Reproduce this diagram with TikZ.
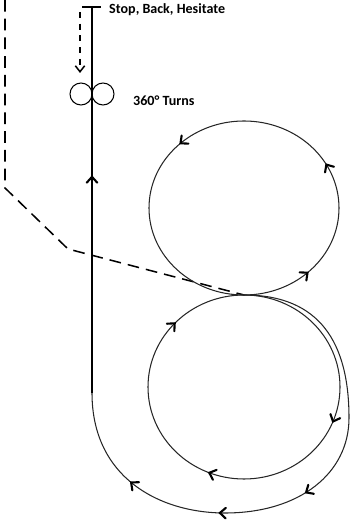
\documentclass[tikz,border=0pt]{standalone}
\usepackage{fontspec}
\setmainfont{Carlito}
\usetikzlibrary{arrows.meta,decorations.markings}

\begin{document}
\begin{tikzpicture}[x=0.3mm, y=0.3mm,
  loopline/.style={line width=0.9pt, black!85},
  spine/.style={line width=1.6pt},
  trail/.style={dash pattern=on 10pt off 6pt, line width=1.3pt},
  hint/.style={dash pattern=on 5pt off 5pt, line width=1.3pt,
               -{Straight Barb[length=1.8mm, width=2.8mm, line width=1.3pt]}},
  turn/.style={circle, draw, line width=0.9pt, minimum size=6.6mm, inner sep=0pt},
  lbl/.style={font=\bfseries\fontsize{12}{14}\selectfont, anchor=base west, inner sep=0pt},
  flow/.style={postaction={decorate, decoration={markings,
               mark=at position #1 with {\draw[black, line width=1.8pt, line cap=round,
                 line join=miter] (-5pt,4.5pt) -- (0pt,0pt) -- (-5pt,-4.5pt);}}}}
]
\useasboundingbox (0,0) rectangle (351,523);

% fixed points
\coordinate (top)  at (92,516);
\coordinate (barL) at (82,516);
\coordinate (barR) at (101,516);
\coordinate (bend) at (92,130);
\coordinate (tan)  at (244,228);
\coordinate (hintA) at (80,511);
\coordinate (hintB) at (80,450);
\coordinate (edge) at (5,523);
\coordinate (c1) at (5,335);
\coordinate (c2) at (68,274);

% labels
\node[lbl] (stop) at (109,509) {Stop, Back, Hesitate};
\node[turn] (turnL) at (81,429) {};
\node[turn] (turnR) at (103,429) {};
\node[lbl] (turnlbl) at (133,417) {360° Turns};

% entry trail
\draw[trail] (edge) -- (c1) -- (c2) -- (tan);

% upper and lower circles
\draw[loopline, flow=0.12, flow=0.33, flow=0.62]
  (tan) arc[start angle=-90, end angle=270, x radius=95, y radius=87];
\draw[loopline, flow=0.31, flow=0.56, flow=0.87]
  (tan) arc[start angle=90, end angle=-270, x radius=96, y radius=92];

% outer loop back to the spine
\draw[loopline, flow=0.49, flow=0.65, flow=0.82]
  (tan) .. controls (320,228) and (349,180) .. (349,105)
        .. controls (349,50) and (300,10) .. (225,10)
        .. controls (160,10) and (92,45) .. (bend);
\draw[spine, flow=0.56] (bend) -- (top);
\draw[spine] (barL) -- (barR);
\draw[hint] (hintA) -- (hintB);
\end{tikzpicture}
\end{document}
